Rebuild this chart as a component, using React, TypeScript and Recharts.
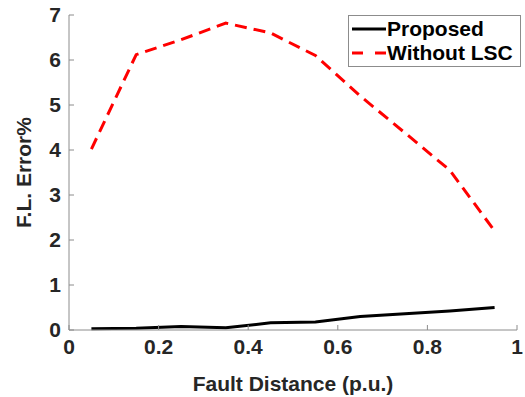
import React from "react";
import {
  LineChart,
  Line,
  XAxis,
  YAxis,
} from "recharts";

// fault distance in p.u.
const distances = [0.05, 0.15, 0.25, 0.35, 0.45, 0.55, 0.65, 0.75, 0.85, 0.95];
const proposed = [0.03, 0.04, 0.08, 0.05, 0.16, 0.18, 0.3, 0.36, 0.42, 0.5];
const withoutLsc = [4.02, 6.12, 6.45, 6.82, 6.6, 6.1, 5.2, 4.38, 3.55, 2.2];

const xTicks = [0, 0.2, 0.4, 0.6, 0.8, 1];
const yTicks = [0, 1, 2, 3, 4, 5, 6, 7];

const data = distances.map((d, i) => ({
  d,
  proposed: proposed[i],
  without: withoutLsc[i],
}));

const FONT = "'Liberation Sans', Arial, sans-serif";
const TEXT = "#262626";
const AXIS = "#8c8c8c";

const tickStyle = { fontSize: 21, fontWeight: 700, fill: TEXT, fontFamily: FONT };

const LegendBox = () => (
  <div
    style={{
      position: "absolute",
      left: 348,
      top: 15,
      border: `1px solid ${AXIS}`,
      background: "#fff",
      width: 173,
      height: 52,
      boxSizing: "border-box",
      fontFamily: FONT,
      fontWeight: 700,
      fontSize: 21,
      color: "#000",
      padding: "1px 0 0 3px",
      lineHeight: "24px",
    }}
  >
    <div style={{ display: "flex", alignItems: "center" }}>
      <svg width={34} height={10}>
        <line x1={0} y1={5} x2={34} y2={5} stroke="#000" strokeWidth={3} />
      </svg>
      <span style={{ marginLeft: 1 }}>Proposed</span>
    </div>
    <div style={{ display: "flex", alignItems: "center" }}>
      <svg width={34} height={10}>
        <line x1={0} y1={5} x2={34} y2={5} stroke="#ff0000" strokeWidth={3} strokeDasharray="11 12" />
      </svg>
      <span style={{ marginLeft: 1 }}>Without LSC</span>
    </div>
  </div>
);

export default function App() {
  return (
    <div style={{ position: "absolute", left: 0, top: 0, width: 525, height: 397, background: "#fff" }}>
      <LineChart
        width={525}
        height={397}
        data={data}
        margin={{ top: 15, right: 8, bottom: 0, left: 0 }}
      >
        <XAxis
          xAxisId="b"
          dataKey="d"
          type="number"
          domain={[0, 1]}
          ticks={xTicks}
          tickSize={-5}
          tickMargin={14}
          height={67}
          stroke={AXIS}
          tick={tickStyle}
          label={{
            value: "Fault Distance (p.u.)",
            position: "insideBottom",
            offset: 6,
            style: { fontSize: 21, fontWeight: 700, fill: TEXT, fontFamily: FONT },
          }}
        />
        <XAxis
          xAxisId="t"
          orientation="top"
          dataKey="d"
          type="number"
          domain={[0, 1]}
          ticks={xTicks}
          tickSize={-5}
          height={0}
          stroke={AXIS}
          tick={false}
        />
        <YAxis
          yAxisId="l"
          type="number"
          domain={[0, 7]}
          ticks={yTicks}
          tickSize={-5}
          tickMargin={13}
          width={69}
          stroke={AXIS}
          tick={tickStyle}
          label={{
            value: "F.L. Error%",
            angle: -90,
            position: "insideLeft",
            offset: 24,
            style: { textAnchor: "middle", fontSize: 21, fontWeight: 700, fill: TEXT, fontFamily: FONT },
          }}
        />
        <YAxis
          yAxisId="r"
          orientation="right"
          type="number"
          domain={[0, 7]}
          ticks={yTicks}
          tickSize={-5}
          width={0}
          stroke={AXIS}
          tick={false}
        />
        <Line
          xAxisId="b"
          yAxisId="l"
          dataKey="proposed"
          name="Proposed"
          stroke="#000"
          strokeWidth={3}
          dot={false}
          isAnimationActive={false}
        />
        <Line
          xAxisId="b"
          yAxisId="l"
          dataKey="without"
          name="Without LSC"
          stroke="#ff0000"
          strokeWidth={3}
          strokeDasharray="12 7"
          dot={false}
          isAnimationActive={false}
        />
      </LineChart>
      <LegendBox />
    </div>
  );
}
